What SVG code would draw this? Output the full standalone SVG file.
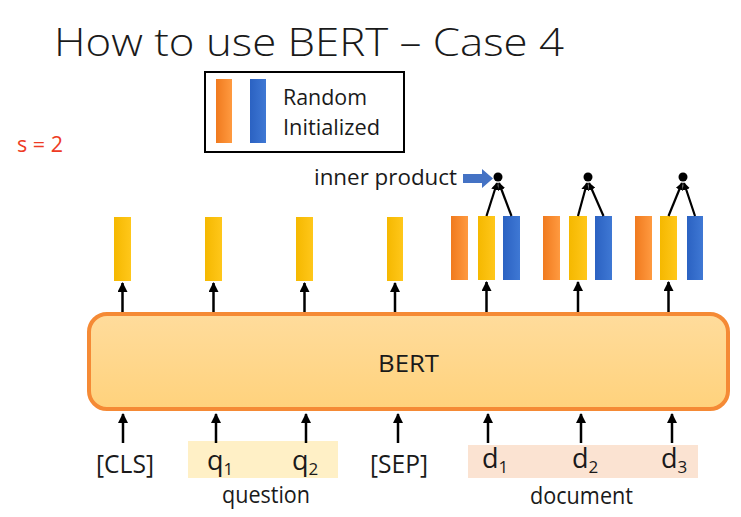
<svg xmlns="http://www.w3.org/2000/svg" width="741" height="517" viewBox="0 0 741 517">
<defs>
<linearGradient id="gOrange" x1="0" y1="0" x2="1" y2="0"><stop offset="0" stop-color="#F07A1E"/><stop offset="1" stop-color="#FF9A40"/></linearGradient>
<linearGradient id="gYellow" x1="0" y1="0" x2="1" y2="0"><stop offset="0" stop-color="#F5B800"/><stop offset="1" stop-color="#FFC71A"/></linearGradient>
<linearGradient id="gBlue" x1="0" y1="0" x2="1" y2="0"><stop offset="0" stop-color="#2B62C2"/><stop offset="1" stop-color="#3F78D4"/></linearGradient>
<linearGradient id="gBert" x1="0" y1="0" x2="0" y2="1"><stop offset="0" stop-color="#FFDC9C"/><stop offset="1" stop-color="#FFD27C"/></linearGradient>
<marker id="ah" viewBox="0 0 10 10" refX="9" refY="5" markerWidth="4" markerHeight="4" orient="auto"><path d="M0,0 L10,5 L0,10 z" fill="#000"/></marker>
<marker id="ahs" viewBox="0 0 10 10" refX="9" refY="5" markerWidth="3.5" markerHeight="3.5" orient="auto"><path d="M0,0 L10,5 L0,10 z" fill="#000"/></marker>
</defs>
<style>
.t{font-family:"Open Sans","Noto Sans","Liberation Sans",sans-serif;fill:#1a1a1a}
.or{fill:url(#gOrange)}
.ye{fill:url(#gYellow)}
.bl{fill:url(#gBlue)}
.arr{stroke:#000;stroke-width:2.5;fill:none;marker-end:url(#ah)}
.ip{stroke:#000;stroke-width:2.2;fill:none;marker-end:url(#ahs)}
</style>
<rect width="741" height="517" fill="#fff"/>
<text id="title" class="t" x="54" y="56" font-size="38" font-weight="300" textLength="510" lengthAdjust="spacingAndGlyphs">How to use BERT – Case 4</text>
<g id="legend">
<rect x="205" y="72" width="199" height="80" fill="#fff" stroke="#000" stroke-width="2"/>
<rect class="or" x="216" y="79" width="16" height="64"/>
<rect class="bl" x="250" y="79" width="16" height="64"/>
<text class="t" x="283" y="105" font-size="21" textLength="84" lengthAdjust="spacingAndGlyphs">Random</text>
<text class="t" x="283" y="135" font-size="21" textLength="97" lengthAdjust="spacingAndGlyphs">Initialized</text>
</g>
<text id="s2" x="17" y="152" font-family="Open Sans,Noto Sans,sans-serif" font-size="21" fill="#EE3B24" textLength="46" lengthAdjust="spacingAndGlyphs">s = 2</text>
<g id="innerproduct">
<text class="t" x="314" y="185" font-size="21" textLength="143" lengthAdjust="spacingAndGlyphs">inner product</text>
<path d="M463,174 L482,174 L482,169 L493,178.5 L482,188 L482,183 L463,183 z" fill="#4472C4"/>
</g>
<g id="bert">
<rect x="89" y="314" width="639" height="95" rx="18" fill="url(#gBert)" stroke="#F58A35" stroke-width="4"/>
<text class="t" x="378" y="372" font-size="24" textLength="61" lengthAdjust="spacingAndGlyphs">BERT</text>
</g>
<g id="outputs">
<rect class="ye" x="114" y="217" width="17" height="64"/>
<rect class="ye" x="205" y="217" width="17" height="64"/>
<rect class="ye" x="296" y="217" width="17" height="64"/>
<rect class="ye" x="387" y="217" width="16" height="64"/>
<rect class="or" x="451" y="216" width="17" height="64"/>
<rect class="ye" x="478" y="216" width="17" height="64"/>
<rect class="bl" x="503" y="216" width="17" height="64"/>
<rect class="or" x="543" y="216" width="17" height="64"/>
<rect class="ye" x="569" y="216" width="18" height="64"/>
<rect class="bl" x="595" y="216" width="17" height="64"/>
<rect class="or" x="635" y="216" width="17" height="64"/>
<rect class="ye" x="660" y="216" width="17" height="64"/>
<rect class="bl" x="687" y="216" width="16" height="64"/>
</g>
<g id="dots">
<circle cx="498" cy="177" r="4.5" fill="#000"/>
<circle cx="588" cy="177" r="4.5" fill="#000"/>
<circle cx="683" cy="177" r="4.5" fill="#000"/>
</g>
<g id="tokens">
<rect x="188" y="441" width="150" height="37" fill="#FFF0C6"/>
<rect x="468" y="445" width="230" height="33" fill="#FBE3D2"/>
<text class="t" x="96" y="473" font-size="26" textLength="58" lengthAdjust="spacingAndGlyphs">[CLS]</text>
<text class="t" x="207" y="470" font-size="27">q<tspan font-size="17" dy="5">1</tspan></text>
<text class="t" x="292" y="470" font-size="27">q<tspan font-size="17" dy="5">2</tspan></text>
<text class="t" x="370" y="473" font-size="26" textLength="58" lengthAdjust="spacingAndGlyphs">[SEP]</text>
<text class="t" x="482" y="468" font-size="27">d<tspan font-size="17" dy="5">1</tspan></text>
<text class="t" x="572" y="468" font-size="27">d<tspan font-size="17" dy="5">2</tspan></text>
<text class="t" x="661" y="468" font-size="27">d<tspan font-size="17" dy="5">3</tspan></text>
<text class="t" x="222" y="503" font-size="23" textLength="88" lengthAdjust="spacingAndGlyphs">question</text>
<text class="t" x="530" y="504" font-size="23" textLength="103" lengthAdjust="spacingAndGlyphs">document</text>
</g>
<g id="connectors">
<line class="arr" x1="122.5" y1="312" x2="122.5" y2="283"/>
<line class="arr" x1="213.5" y1="312" x2="213.5" y2="283"/>
<line class="arr" x1="304.5" y1="312" x2="304.5" y2="283"/>
<line class="arr" x1="395" y1="312" x2="395" y2="283"/>
<line class="arr" x1="486.5" y1="312" x2="486.5" y2="282"/>
<line class="arr" x1="578" y1="312" x2="578" y2="282"/>
<line class="arr" x1="668.5" y1="312" x2="668.5" y2="282"/>
<line class="arr" x1="123" y1="443" x2="123" y2="414"/>
<line class="arr" x1="216" y1="443" x2="216" y2="414"/>
<line class="arr" x1="306" y1="443" x2="306" y2="414"/>
<line class="arr" x1="398" y1="443" x2="398" y2="414"/>
<line class="arr" x1="488" y1="443" x2="488" y2="414"/>
<line class="arr" x1="581" y1="443" x2="581" y2="414"/>
<line class="arr" x1="672" y1="443" x2="672" y2="414"/>
<line class="ip" x1="486.5" y1="216" x2="497" y2="183"/>
<line class="ip" x1="511.5" y1="216" x2="499" y2="183"/>
<line class="ip" x1="578" y1="216" x2="587" y2="183"/>
<line class="ip" x1="603.5" y1="216" x2="589" y2="183"/>
<line class="ip" x1="668.5" y1="216" x2="682" y2="183"/>
<line class="ip" x1="695" y1="216" x2="684" y2="183"/>
</g>
</svg>
